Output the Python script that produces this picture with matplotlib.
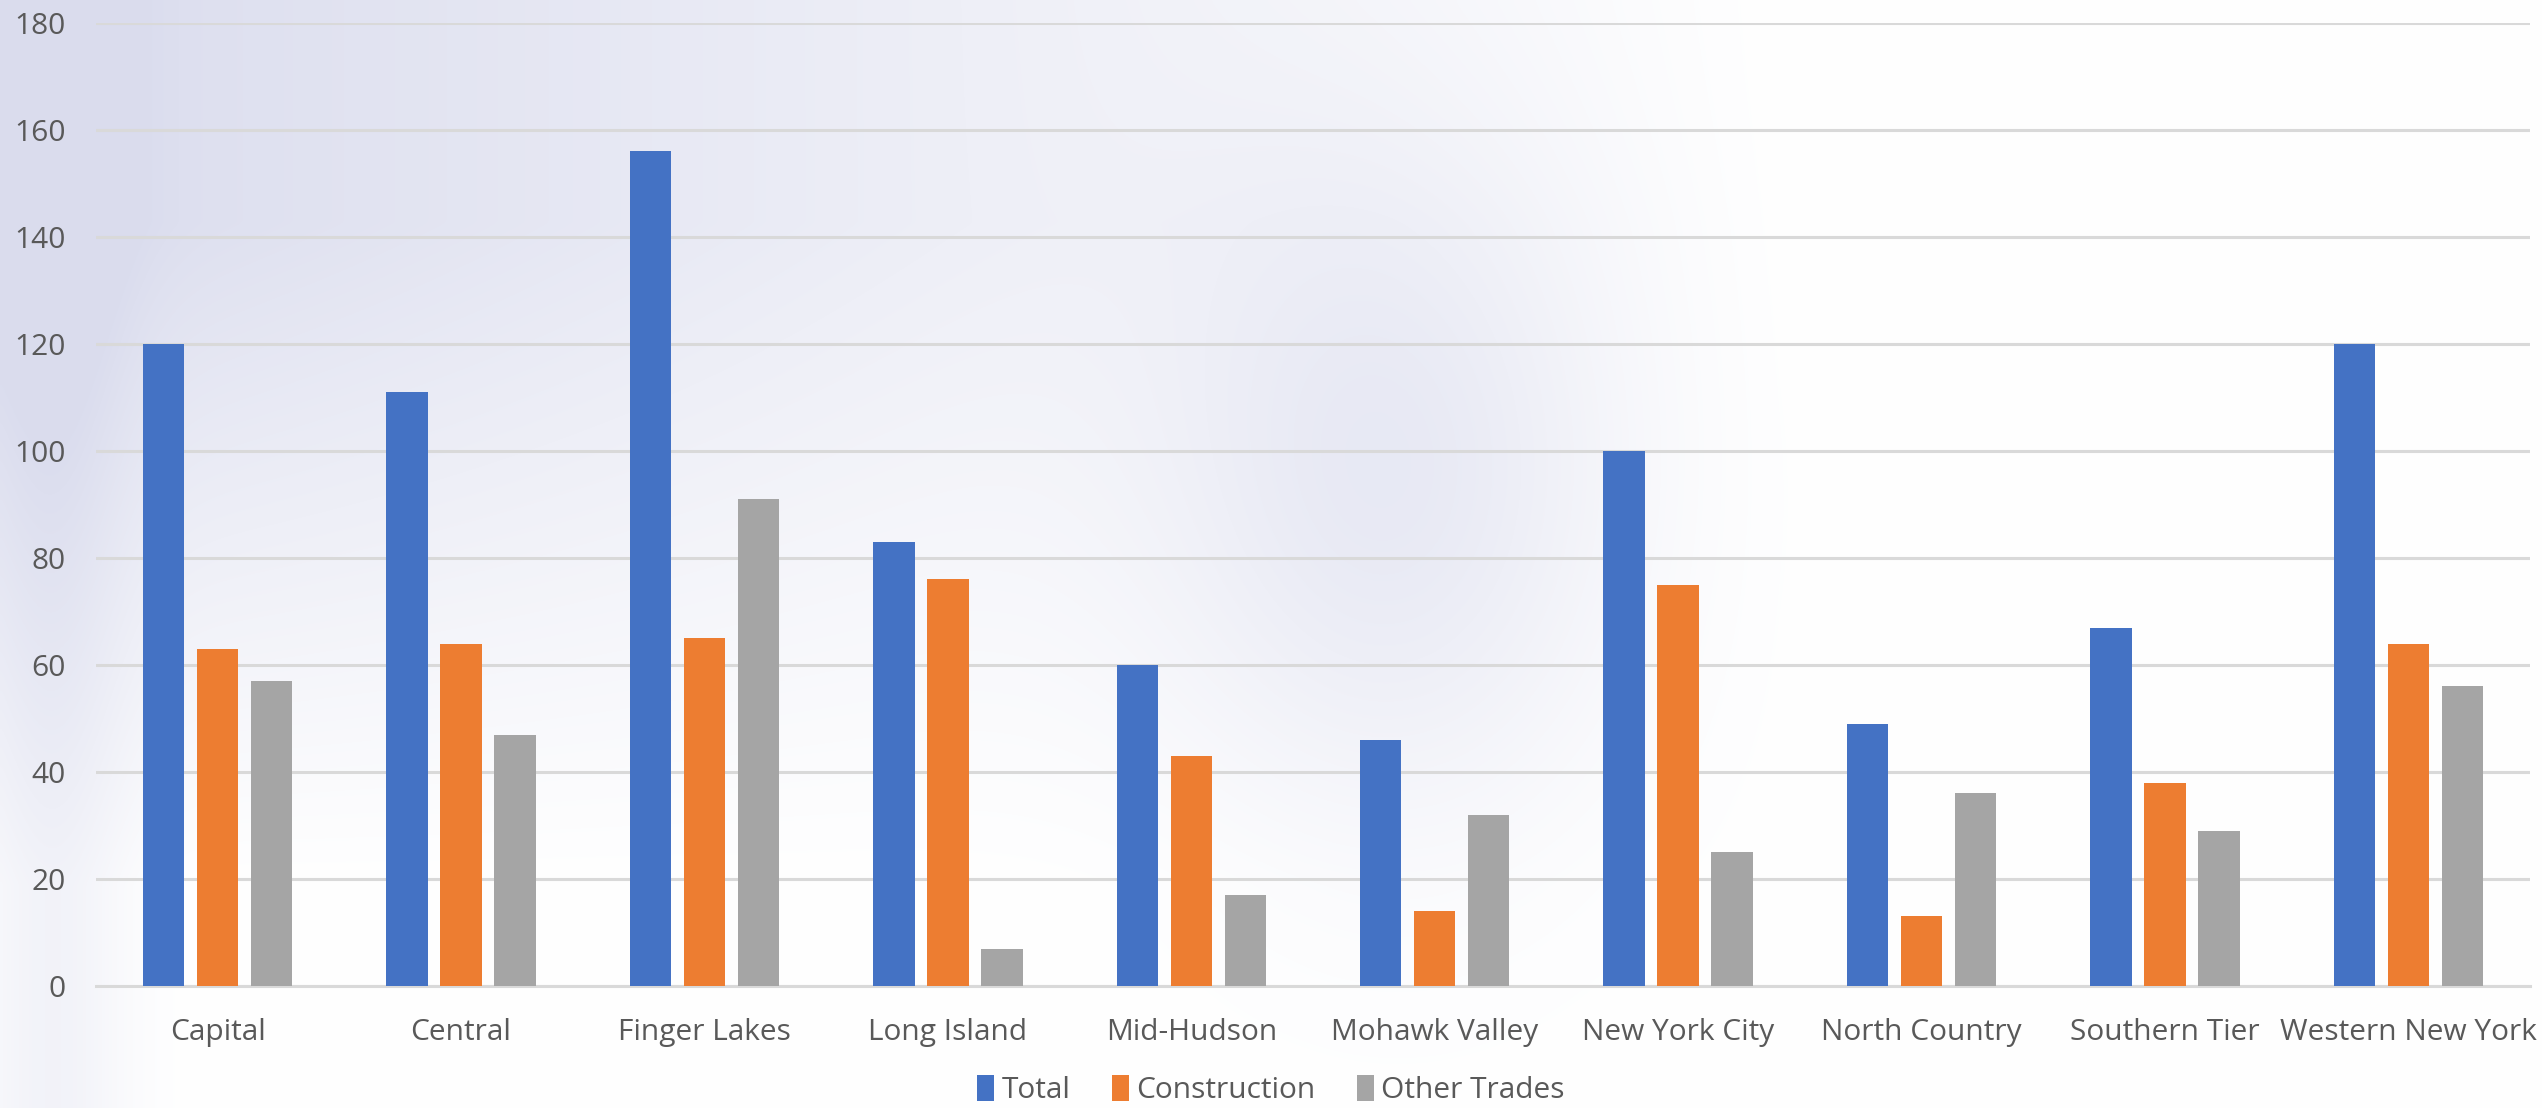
import numpy as np
import matplotlib.pyplot as plt

regions = ['Capital', 'Central', 'Finger Lakes', 'Long Island', 'Mid-Hudson',
           'Mohawk Valley', 'New York City', 'North Country', 'Southern Tier',
           'Western New York']
total = [120, 111, 156, 83, 60, 46, 100, 49, 67, 120]
construction = [63, 64, 65, 76, 43, 14, 75, 13, 38, 64]
other_trades = [57, 47, 91, 7, 17, 32, 25, 36, 29, 56]
series_names = ['Total', 'Construction', 'Other Trades']
colors = ['#4472C4', '#ED7D31', '#A5A5A5']

plt.rcParams['font.family'] = ['Open Sans', 'DejaVu Sans']

fig = plt.figure(figsize=(25.42, 11.08), dpi=100)

# soft lavender backdrop, fading out to the right and bottom
h, w = 277, 635
yy, xx = np.mgrid[0:1:h * 1j, 0:1:w * 1j]
shade = np.clip(1.0 - xx / 0.7, 0, 1) * np.clip(1.0 - (yy - 0.2) / 0.6, 0, 1)
shade += 0.5 * np.exp(-(((xx - 0.55) / 0.09) ** 2 + ((yy - 0.45) / 0.3) ** 2))
shade += 0.35 * np.exp(-(((xx - 0.02) / 0.03) ** 2))
shade = np.clip(shade, 0, 1) * 0.85
lav = np.array([0.83, 0.84, 0.92])
img = 1 - shade[..., None] * (1 - lav)[None, None, :]
bg = fig.add_axes([0, 0, 1, 1], zorder=0)
bg.imshow(img, aspect='auto', extent=[0, 1, 0, 1], interpolation='bicubic')
bg.axis('off')

ax = fig.add_axes([96 / 2542, 1 - 986 / 1108, (2530 - 96) / 2542, (986 - 23) / 1108], zorder=1)
ax.patch.set_alpha(0)

x = np.arange(len(regions))
width = 0.17
step = 0.222
for i, (vals, name) in enumerate(zip([total, construction, other_trades], series_names)):
    ax.bar(x + (i - 1) * step, vals, width, color=colors[i], label=name, zorder=3)

ax.set_xlim(-0.5, len(regions) - 0.5)
ax.set_ylim(0, 180)
ax.set_yticks(np.arange(0, 181, 20))
ax.yaxis.grid(True, color='#D9D9D9', linewidth=2.2, zorder=0)
ax.set_axisbelow(True)
for s in ['top', 'right', 'left']:
    ax.spines[s].set_visible(False)
ax.spines['bottom'].set_color('#D9D9D9')
ax.spines['bottom'].set_linewidth(2.2)
ax.set_xticks(x)
ax.set_xticklabels(regions)
ax.tick_params(axis='both', length=0, labelsize=21.5, colors='#595959')
ax.tick_params(axis='y', pad=22)
ax.tick_params(axis='x', pad=23)

leg = fig.legend(loc='center', bbox_to_anchor=(0.5, 1 - 1090 / 1108), ncol=3, frameon=False,
                 fontsize=21.5, handlelength=0.55, handleheight=0.95, handletextpad=0.25,
                 columnspacing=1.4)
for t in leg.get_texts():
    t.set_color('#595959')

fig.savefig('out.png', dpi=100)
